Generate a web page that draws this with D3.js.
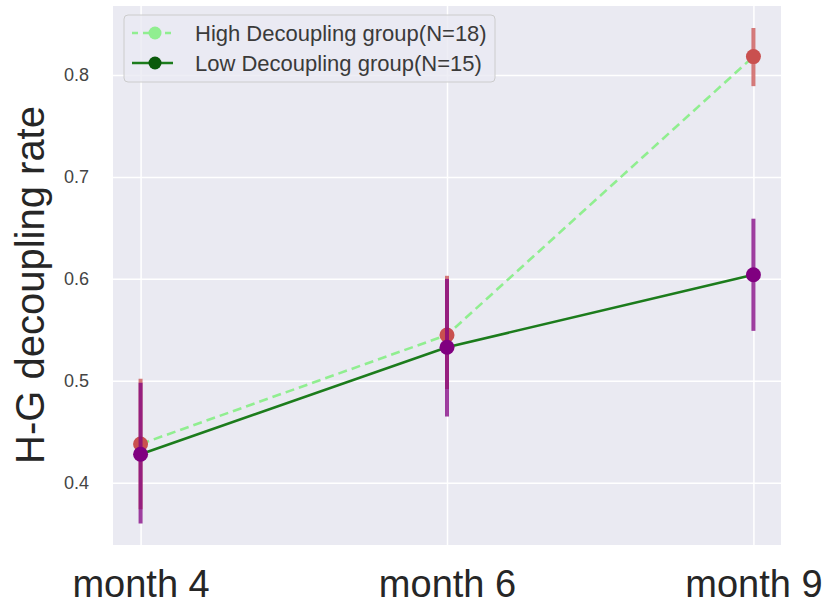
<!DOCTYPE html>
<html>
<head>
<meta charset="utf-8">
<script src="https://cdn.jsdelivr.net/npm/d3@7"></script>
<style>
  body { margin: 0; background: #fff; }
  text { font-family: "Liberation Sans", Arial, sans-serif; }
</style>
</head>
<body>
<svg id="chart" width="827" height="607"></svg>
<script>
const months = ["month 4", "month 6", "month 9"];
const yTicks = [0.4, 0.5, 0.6, 0.7, 0.8];

const highMean = [0.438, 0.545, 0.818];
const highLow = [0.374, 0.492, 0.789];
const highHigh = [0.502, 0.603, 0.846];

const lowMean = [0.428, 0.533, 0.604];
const lowLow = [0.360, 0.465, 0.549];
const lowHigh = [0.498, 0.600, 0.659];

const svg = d3.select("#chart");
const width = 827;
const height = 607;
const margin = { top: 6, right: 46, bottom: 62, left: 113 };
const innerWidth = width - margin.left - margin.right;
const innerHeight = height - margin.top - margin.bottom;

const xScale = d3.scalePoint()
    .domain(months)
    .range([0, innerWidth])
    .padding(0.09);

const yScale = d3.scaleLinear()
    .domain([0.339, 0.8676])
    .range([innerHeight, 0]);

const g = svg.append('g')
    .attr('transform', `translate(${margin.left},${margin.top})`);

g.append('rect')
    .attr('width', innerWidth)
    .attr('height', innerHeight)
    .attr('fill', '#eaeaf2');

const yAxis = d3.axisLeft(yScale)
    .tickValues(yTicks)
    .tickSize(-innerWidth)
    .tickPadding(24)
    .tickFormat(d3.format(".1f"));

const yAxisG = g.append('g').call(yAxis);
yAxisG.selectAll('.domain').remove();
yAxisG.selectAll('line').attr('stroke', '#fff').attr('stroke-width', 1.5);
yAxisG.selectAll('text')
    .attr('fill', '#444')
    .style('font-size', '18px');

const xAxis = d3.axisBottom(xScale)
    .tickSize(-innerHeight)
    .tickPadding(25);

const xAxisG = g.append('g')
    .attr('transform', `translate(0,${innerHeight})`)
    .call(xAxis);
xAxisG.selectAll('.domain').remove();
xAxisG.selectAll('line').attr('stroke', '#fff').attr('stroke-width', 1.5);
xAxisG.selectAll('text')
    .attr('fill', '#262626')
    .style('font-size', '38px');

g.append('text')
    .attr('transform', 'rotate(-90)')
    .attr('x', -279)
    .attr('y', -69)
    .attr('text-anchor', 'middle')
    .attr('fill', '#262626')
    .style('font-size', '40px')
    .text('H-G decoupling rate');

const drawGroup = (mean, lo, hi, lineColor, dash, barColor, pointColor) => {
    const line = d3.line()
        .x((d, i) => xScale(months[i]))
        .y(d => yScale(d));

    g.append('path')
        .datum(mean)
        .attr('d', line)
        .attr('fill', 'none')
        .attr('stroke', lineColor)
        .attr('stroke-width', 2.6)
        .attr('stroke-dasharray', dash);

    g.selectAll(null).data(months)
        .enter()
        .append('line')
        .attr('x1', d => xScale(d))
        .attr('x2', d => xScale(d))
        .attr('y1', (d, i) => yScale(lo[i]))
        .attr('y2', (d, i) => yScale(hi[i]))
        .attr('stroke', barColor)
        .attr('stroke-width', 4)
        .attr('stroke-opacity', 0.75);

    g.selectAll(null).data(months)
        .enter()
        .append('circle')
        .attr('cx', d => xScale(d))
        .attr('cy', (d, i) => yScale(mean[i]))
        .attr('r', 7.5)
        .attr('fill', pointColor);
};

drawGroup(highMean, highLow, highHigh, '#90ee90', '9,5', '#c9504f', '#c9504f');
drawGroup(lowMean, lowLow, lowHigh, '#1c7c1c', null, '#800080', '#800080');

// legend
const legendItems = [
    { label: 'High Decoupling group(N=18)', line: '#90ee90', marker: '#90ee90', dash: '6,5' },
    { label: 'Low Decoupling group(N=15)', line: '#1c7c1c', marker: '#0b5a0b', dash: null }
];

const legend = g.append('g')
    .attr('transform', 'translate(11,9)');

legend.append('rect')
    .attr('width', 371)
    .attr('height', 67)
    .attr('rx', 4)
    .attr('fill', '#eaeaf2')
    .attr('fill-opacity', 0.8)
    .attr('stroke', '#cccccc');

const rows = legend.selectAll('.row').data(legendItems)
    .enter()
    .append('g')
    .attr('class', 'row')
    .attr('transform', (d, i) => `translate(0,${18 + i * 30})`);

rows.append('line')
    .attr('x1', 8)
    .attr('x2', 49)
    .attr('stroke', d => d.line)
    .attr('stroke-width', 2.6)
    .attr('stroke-dasharray', d => d.dash);

rows.append('circle')
    .attr('cx', 31)
    .attr('r', 6.5)
    .attr('fill', d => d.marker);

rows.append('text')
    .attr('x', 71)
    .attr('dy', '0.35em')
    .attr('fill', '#3a3a3a')
    .style('font-size', '22px')
    .text(d => d.label);
</script>
</body>
</html>
